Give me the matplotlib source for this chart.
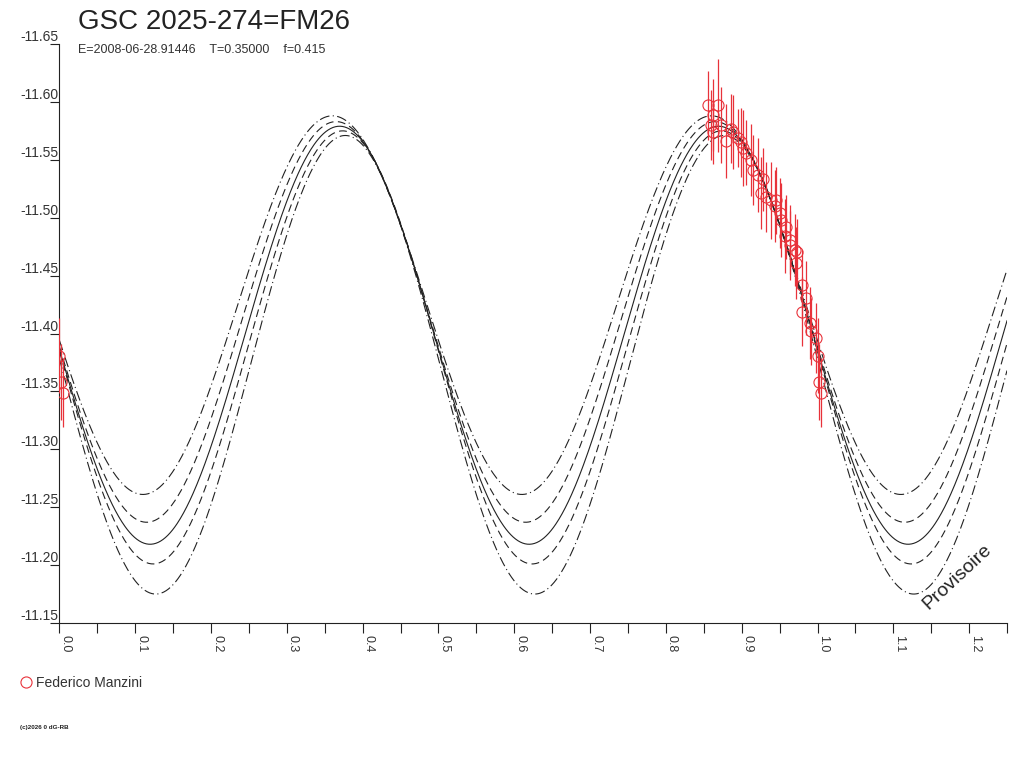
import matplotlib
matplotlib.use("Agg")
import matplotlib.pyplot as plt
from matplotlib.lines import Line2D
import numpy as np

plt.rcParams["font.family"] = ["Liberation Sans", "DejaVu Sans"]

OBS_PHASE = [0.8554, 0.8686, 0.8620, 0.8598, 0.8730, 0.8616, 0.8796, 0.8862,
             0.8879, 0.8945, 0.8994, 0.9011, 0.9060, 0.9126, 0.9143, 0.9209,
             0.9275, 0.9258, 0.9324, 0.9390, 0.9456, 0.9433, 0.9499, 0.9521,
             0.9587, 0.9631, 0.9697, 0.9736, 0.9565, 0.9631, 0.9719, 0.9802,
             0.9851, 0.9802, 0.9895, 0.9917, 0.9983, 1.0000, 1.0026, 1.0049]
OBS_MAG = [-11.597, -11.597, -11.589, -11.580, -11.580, -11.574, -11.566, -11.577,
           -11.574, -11.569, -11.565, -11.560, -11.556, -11.550, -11.541, -11.537,
           -11.533, -11.521, -11.518, -11.515, -11.515, -11.510, -11.504, -11.498,
           -11.492, -11.481, -11.472, -11.470, -11.484, -11.476, -11.461, -11.442,
           -11.431, -11.419, -11.409, -11.402, -11.396, -11.381, -11.358, -11.349]
OBS_ERR = [0.030, 0.040, 0.031, 0.030, 0.033, 0.028, 0.032, 0.030,
           0.032, 0.025, 0.030, 0.033, 0.028, 0.031, 0.030, 0.032,
           0.027, 0.031, 0.030, 0.033, 0.029, 0.031, 0.030, 0.032,
           0.028, 0.030, 0.031, 0.029, 0.032, 0.030, 0.031, 0.030,
           0.032, 0.030, 0.031, 0.029, 0.030, 0.032, 0.033, 0.030]

# --- Ephemeris curves: mean mag, semi-amplitude, phase of minimum light ---
PERIOD = 0.5
CURVE_MEAN = [-11.4245, -11.410, -11.3985, -11.388, -11.373]
CURVE_AMP = [0.1635, 0.173, 0.1805, 0.187, 0.198]
CURVE_T0 = [0.110, 0.115, 0.1195, 0.1235, 0.127]
CURVE_STYLE = [(0, (9, 3, 1, 3)), (0, (7, 4)), "-", (0, (7, 4)), (0, (9, 3, 1, 3))]

XTICKS = [0.0, 0.1, 0.2, 0.3, 0.4, 0.5, 0.6, 0.7, 0.8, 0.9, 1.0, 1.1, 1.2]
YTICKS = [-11.65, -11.60, -11.55, -11.50, -11.45, -11.40, -11.35, -11.30,
          -11.25, -11.20, -11.15]

RED = "#e8323a"
INK = "#222222"

fig = plt.figure(figsize=(10.24, 7.68), dpi=100)
ax = fig.add_axes([0.0581, 0.1888, 0.9253, 0.7539])

x = np.linspace(0.0, 1.25, 1200)
for m, a, t0, ls in zip(CURVE_MEAN, CURVE_AMP, CURVE_T0, CURVE_STYLE):
    y = m + a * np.cos(2 * np.pi * (x - t0) / PERIOD)
    ax.plot(x, y, color=INK, lw=0.8, ls=ls, zorder=2)

ph = np.array(OBS_PHASE)
mag = np.array(OBS_MAG)
err = np.array(OBS_ERR)
# points past phase 1.0 are shown again at the start of the cycle
wrap = ph >= 0.9995
ph_all = np.concatenate([ph, ph[wrap] - 1.0])
mag_all = np.concatenate([mag, mag[wrap]])
err_all = np.concatenate([err, err[wrap]])

ax.errorbar(ph_all, mag_all, yerr=err_all, fmt="none", ecolor=RED,
            elinewidth=0.9, capsize=0, zorder=3)
ax.plot(ph_all, mag_all, ls="none", marker="o", ms=8, mfc="none",
        mec=RED, mew=0.8, zorder=4)

ax.set_xlim(0.0, 1.25)
ax.set_ylim(-11.15, -11.65)

ax.set_xticks(XTICKS)
ax.set_xticklabels([f"{v:.1f}" for v in XTICKS])
ax.set_xticks(np.array(XTICKS) + 0.05, minor=True)
ax.set_yticks(YTICKS)
ax.set_yticklabels([f"{v:.2f}" for v in YTICKS])

for side in ("top", "right"):
    ax.spines[side].set_visible(False)
for side in ("left", "bottom"):
    ax.spines[side].set_linewidth(0.8)
    ax.spines[side].set_color(INK)

ax.tick_params(axis="x", which="both", direction="out", length=7.5,
               width=0.8, color=INK, pad=1, labelsize=9, labelcolor="#333333")
ax.tick_params(axis="y", direction="out", length=6.5, width=0.8, color=INK,
               pad=-5.6, labelsize=10, labelcolor="#333333")
for lab in ax.get_xticklabels():
    lab.set_rotation(-90)
    lab.set_ha("left")
    lab.set_va("top")
for lab in ax.get_yticklabels():
    lab.set_va("bottom")

ax.text(1.1846, -11.190, "Provisoire", rotation=43, fontsize=14, color=INK,
        ha="center", va="center", rotation_mode="anchor")

fig.text(78 / 1024, 1 - 29 / 768, "GSC 2025-274=FM26", fontsize=20,
         color=INK, va="baseline")
fig.text(78 / 1024, 1 - 53 / 768,
         "E=2008-06-28.91446    T=0.35000    f=0.415", fontsize=9,
         color="#333333", va="baseline")

handle = Line2D([], [], ls="none", marker="o", ms=8, mfc="none", mec=RED, mew=0.8)
fig.legend([handle], ["Federico Manzini"], loc="center left",
           bbox_to_anchor=(0.005, 1 - 683 / 768), frameon=False,
           fontsize=10, handletextpad=0.1, handlelength=1.2,
           labelcolor="#333333")

fig.text(20 / 1024, 1 - 729 / 768, "(c)2026 0 dG-RB", fontsize=4.5,
         color=INK, va="baseline", weight="bold")

fig.savefig("out.png", dpi=100)
plt.close(fig)
